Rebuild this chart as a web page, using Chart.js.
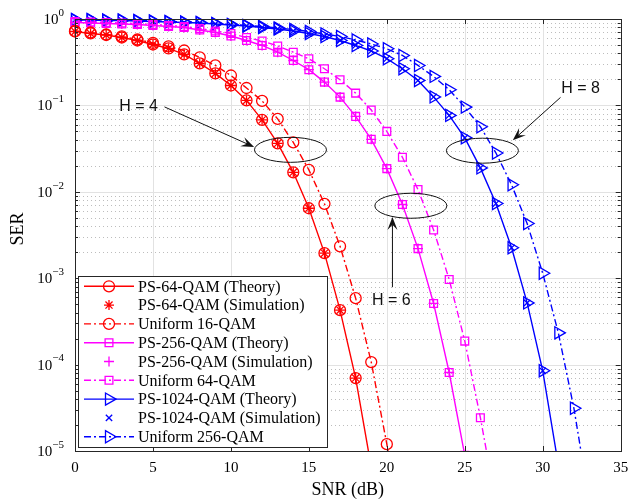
<!DOCTYPE html>
<html>
<head>
<meta charset="utf-8">
<script src="https://cdn.jsdelivr.net/npm/chart.js@4.4.0/dist/chart.umd.min.js"></script>
<style>
  html, body { margin: 0; padding: 0; background: #fff; }
  #wrap { width: 629px; height: 500px; }
</style>
</head>
<body>
<div id="wrap"><canvas id="serChart" width="629" height="500"></canvas></div>
<script>
// SNR grids (dB) for each curve
const snrPs64 = [0,1,2,3,4,5,6,7,8,9,10,11,12,13,14,15,16,17,18,19];
const snrPs64Sim = [0,1,2,3,4,5,6,7,8,9,10,11,12,13,14,15,16,17,18];
const snrUni16 = [0,1,2,3,4,5,6,7,8,9,10,11,12,13,14,15,16,17,18,19,20,21];
const snrPs256 = [0,1,2,3,4,5,6,7,8,9,10,11,12,13,14,15,16,17,18,19,20,21,22,23,24,25];
const snrPs256Sim = [0,1,2,3,4,5,6,7,8,9,10,11,12,13,14,15,16,17,18,19,20,21,22,23,24];
const snrUni64 = [0,1,2,3,4,5,6,7,8,9,10,11,12,13,14,15,16,17,18,19,20,21,22,23,24,25,26,27];
const snrPs1024 = [0,1,2,3,4,5,6,7,8,9,10,11,12,13,14,15,16,17,18,19,20,21,22,23,24,25,26,27,28,29,30,31];
const snrPs1024Sim = [0,1,2,3,4,5,6,7,8,9,10,11,12,13,14,15,16,17,18,19,20,21,22,23,24,25,26,27,28,29,30];
const snrUni256 = [0,1,2,3,4,5,6,7,8,9,10,11,12,13,14,15,16,17,18,19,20,21,22,23,24,25,26,27,28,29,30,31,32,33];

// SER values
const serPs64 = [0.717,0.680,0.653,0.611,0.564,0.507,0.456,0.389,0.306,0.2344,0.170,0.1142,0.0680,0.0364,0.0168,0.00645,0.00195,4.27e-4,6.98e-5,6.5e-6];
const serPs64Sim = [0.717,0.680,0.653,0.611,0.564,0.507,0.456,0.389,0.306,0.2344,0.170,0.1142,0.0680,0.0364,0.0168,0.00645,0.00195,4.27e-4,6.98e-5];
const serUni16 = [0.727,0.698,0.662,0.628,0.579,0.528,0.481,0.432,0.359,0.290,0.222,0.159,0.1127,0.0698,0.0373,0.01795,0.00726,0.00234,5.87e-4,1.07e-4,1.2e-5,1.1e-6];
const serPs256 = [0.911,0.899,0.887,0.875,0.864,0.841,0.819,0.797,0.746,0.698,0.636,0.564,0.494,0.413,0.331,0.259,0.186,0.1247,0.0746,0.0405,0.01855,0.00713,0.0022,5.1e-4,8.1e-5,8.9e-6];
const serPs256Sim = [0.911,0.899,0.887,0.875,0.864,0.841,0.819,0.797,0.746,0.698,0.636,0.564,0.494,0.413,0.331,0.259,0.186,0.1247,0.0746,0.0405,0.01855,0.00713,0.0022,5.1e-4,8.1e-5];
const serUni64 = [0.936,0.923,0.911,0.899,0.887,0.864,0.841,0.819,0.777,0.727,0.680,0.611,0.557,0.488,0.413,0.347,0.2656,0.198,0.1387,0.0883,0.0500,0.0251,0.0106,0.00362,9.66e-4,1.87e-4,2.43e-5,2.5e-6];
const serPs1024 = [0.974,0.974,0.961,0.961,0.948,0.936,0.923,0.911,0.899,0.875,0.852,0.830,0.797,0.766,0.727,0.680,0.628,0.564,0.494,0.4266,0.347,0.2656,0.1945,0.1254,0.0766,0.0421,0.0189,0.00731,0.00225,5.18e-4,8.48e-5,6.9e-6];
const serPs1024Sim = [0.974,0.974,0.961,0.961,0.948,0.936,0.923,0.911,0.899,0.875,0.852,0.830,0.797,0.766,0.727,0.680,0.628,0.564,0.494,0.4266,0.347,0.2656,0.1945,0.1254,0.0766,0.0421,0.0189,0.00731,0.00225,5.18e-4,8.48e-5];
const serUni256 = [0.987,0.987,0.974,0.974,0.961,0.948,0.936,0.923,0.911,0.887,0.864,0.841,0.819,0.787,0.756,0.717,0.671,0.628,0.572,0.514,0.452,0.3785,0.290,0.2165,0.152,0.0956,0.0567,0.0281,0.01205,0.00429,0.00114,2.33e-4,3.12e-5,2.5e-6];

const xTickStep = 5;
const yDecades = [-5, -4, -3, -2, -1, 0];

// annotation groups: label, label position, arrow start/end, ellipse centre (data coords)
const annotations = [
    { text: 'H = 4', at: [4.08, 0.0973], from: [5.74, 0.0961], to: [11.49, 0.033], ring: [13.82, 0.0306] },
    { text: 'H = 6', at: [20.29, 5.57e-4], from: [20.36, 7.87e-4], to: [20.36, 0.00512], ring: [21.54, 0.00689] },
    { text: 'H = 8', at: [32.42, 0.157], from: [31.14, 0.1237], to: [28.08, 0.0394], ring: [26.13, 0.0299] }
];

const RED = '#ff0000', MAG = '#ff00ff', BLUE = '#0000ff';
const DASHDOT = [7, 3, 2, 3];
const SERIF = '"Liberation Serif", "Times New Roman", serif';
const SANS = '"Liberation Sans", Arial, sans-serif';

function points(snr, ser) {
    return snr.map((s, i) => ({ x: s, y: ser[i] }));
}

function series(label, snr, ser, color, marker) {
    return {
        label: label,
        data: points(snr, ser),
        borderColor: color,
        backgroundColor: color,
        borderWidth: 1.4,
        borderDash: marker.dash || [],
        showLine: marker.line !== false,
        pointStyle: marker.style,
        pointRadius: marker.radius,
        pointRotation: marker.rotation || 0,
        pointBorderColor: color,
        pointBackgroundColor: 'rgba(0,0,0,0)',
        pointBorderWidth: 1.3,
        tension: 0,
        clip: { left: 10, top: 10, right: 0, bottom: 0 }
    };
}

const datasets = [
    series('PS-64-QAM (Theory)', snrPs64, serPs64, RED, { style: 'circle', radius: 5.5 }),
    series('PS-64-QAM (Simulation)', snrPs64Sim, serPs64Sim, RED, { style: 'star', radius: 5, line: false }),
    series('Uniform 16-QAM', snrUni16, serUni16, RED, { style: 'circle', radius: 5.5, dash: DASHDOT }),
    series('PS-256-QAM (Theory)', snrPs256, serPs256, MAG, { style: 'rect', radius: 5.5 }),
    series('PS-256-QAM (Simulation)', snrPs256Sim, serPs256Sim, MAG, { style: 'cross', radius: 5, line: false }),
    series('Uniform 64-QAM', snrUni64, serUni64, MAG, { style: 'rect', radius: 5.5, dash: DASHDOT }),
    series('PS-1024-QAM (Theory)', snrPs1024, serPs1024, BLUE, { style: 'triangle', radius: 7, rotation: 90 }),
    series('PS-1024-QAM (Simulation)', snrPs1024Sim, serPs1024Sim, BLUE, { style: 'crossRot', radius: 4.5, line: false }),
    series('Uniform 256-QAM', snrUni256, serUni256, BLUE, { style: 'triangle', radius: 7, rotation: 90, dash: DASHDOT })
];

function marker(ctx, ds, x, y) {
    ctx.save();
    ctx.setLineDash([]);
    ctx.strokeStyle = ds.pointBorderColor;
    ctx.fillStyle = 'rgba(0,0,0,0)';
    ctx.lineWidth = ds.pointBorderWidth;
    Chart.helpers.drawPoint(ctx, {
        pointStyle: ds.pointStyle,
        radius: ds.pointRadius,
        rotation: ds.pointRotation,
        borderWidth: ds.pointBorderWidth
    }, x, y);
    ctx.restore();
}

function arrow(ctx, x0, y0, x1, y1) {
    const len = Math.hypot(x1 - x0, y1 - y0);
    const ux = (x1 - x0) / len, uy = (y1 - y0) / len;
    const nx = -uy, ny = ux;
    const L = 13, W = 10;
    ctx.beginPath();
    ctx.moveTo(x0, y0);
    ctx.lineTo(x1 - ux * L * 0.6, y1 - uy * L * 0.6);
    ctx.stroke();
    ctx.beginPath();
    ctx.moveTo(x1, y1);
    ctx.lineTo(x1 - ux * L + nx * W / 2, y1 - uy * L + ny * W / 2);
    ctx.lineTo(x1 - ux * L * 0.6, y1 - uy * L * 0.6);
    ctx.lineTo(x1 - ux * L - nx * W / 2, y1 - uy * L - ny * W / 2);
    ctx.closePath();
    ctx.fill();
}

const matlabFrame = {
    id: 'matlabFrame',
    beforeDatasetsDraw(chart) {
        const { ctx, chartArea: a, scales: { x, y } } = chart;
        ctx.save();
        ctx.lineWidth = 1;
        // minor log grid (dotted)
        ctx.strokeStyle = '#bdbdbd';
        ctx.setLineDash([1, 3]);
        yDecades.slice(0, -1).forEach(k => {
            for (let m = 2; m <= 9; m++) {
                const py = Math.round(y.getPixelForValue(m * Math.pow(10, k))) + 0.5;
                ctx.beginPath(); ctx.moveTo(a.left, py); ctx.lineTo(a.right, py); ctx.stroke();
            }
        });
        // major grid
        ctx.setLineDash([]);
        ctx.strokeStyle = '#e2e2e2';
        x.ticks.forEach(t => {
            const px = Math.round(x.getPixelForValue(t.value)) + 0.5;
            ctx.beginPath(); ctx.moveTo(px, a.top); ctx.lineTo(px, a.bottom); ctx.stroke();
        });
        yDecades.forEach(k => {
            const py = Math.round(y.getPixelForValue(Math.pow(10, k))) + 0.5;
            ctx.beginPath(); ctx.moveTo(a.left, py); ctx.lineTo(a.right, py); ctx.stroke();
        });
        ctx.restore();
    },
    afterDatasetsDraw(chart) {
        const { ctx, chartArea: a, scales: { x, y } } = chart;
        ctx.save();
        // axes box and inward ticks
        ctx.strokeStyle = '#262626';
        ctx.lineWidth = 1;
        ctx.strokeRect(Math.round(a.left) + 0.5, Math.round(a.top) + 0.5,
            Math.round(a.right - a.left), Math.round(a.bottom - a.top));
        ctx.beginPath();
        x.ticks.forEach(t => {
            const px = Math.round(x.getPixelForValue(t.value)) + 0.5;
            ctx.moveTo(px, a.bottom); ctx.lineTo(px, a.bottom - 5);
            ctx.moveTo(px, a.top); ctx.lineTo(px, a.top + 5);
        });
        yDecades.forEach((k, i) => {
            const py = Math.round(y.getPixelForValue(Math.pow(10, k))) + 0.5;
            ctx.moveTo(a.left, py); ctx.lineTo(a.left + 5, py);
            ctx.moveTo(a.right, py); ctx.lineTo(a.right - 5, py);
            if (i < yDecades.length - 1) {
                for (let m = 2; m <= 9; m++) {
                    const pm = Math.round(y.getPixelForValue(m * Math.pow(10, k))) + 0.5;
                    ctx.moveTo(a.left, pm); ctx.lineTo(a.left + 3, pm);
                    ctx.moveTo(a.right, pm); ctx.lineTo(a.right - 3, pm);
                }
            }
        });
        ctx.stroke();

        // tick labels
        ctx.fillStyle = '#000';
        ctx.font = '15px ' + SERIF;
        ctx.textAlign = 'center';
        ctx.textBaseline = 'middle';
        x.ticks.forEach(t => {
            ctx.fillText(String(t.value), x.getPixelForValue(t.value), a.bottom + 17);
        });
        yDecades.forEach(k => {
            const py = y.getPixelForValue(Math.pow(10, k));
            const exp = k === 0 ? '0' : '\u2212' + Math.abs(k);
            ctx.font = '11px ' + SERIF;
            const ew = ctx.measureText(exp).width;
            ctx.textAlign = 'left';
            ctx.fillText(exp, a.left - 11 - ew, py - 6);
            ctx.font = '15px ' + SERIF;
            ctx.textAlign = 'right';
            ctx.fillText('10', a.left - 11 - ew, py + 1);
        });

        // axis titles
        ctx.font = '18px ' + SERIF;
        ctx.textAlign = 'center';
        ctx.fillText('SNR (dB)', (a.left + a.right) / 2, a.bottom + 39);
        ctx.save();
        ctx.translate(18, (a.top + a.bottom) / 2 - 6);
        ctx.rotate(-Math.PI / 2);
        ctx.fillText('SER', 0, 0);
        ctx.restore();

        // annotations
        ctx.strokeStyle = '#111';
        ctx.fillStyle = '#111';
        ctx.lineWidth = 1;
        annotations.forEach(an => {
            const ex = x.getPixelForValue(an.ring[0]), ey = y.getPixelForValue(an.ring[1]);
            ctx.beginPath(); ctx.ellipse(ex, ey, 36, 12.5, 0, 0, Math.PI * 2); ctx.stroke();
            arrow(ctx, x.getPixelForValue(an.from[0]), y.getPixelForValue(an.from[1]),
                x.getPixelForValue(an.to[0]), y.getPixelForValue(an.to[1]));
            ctx.font = '16px ' + SANS;
            ctx.textAlign = 'center';
            ctx.textBaseline = 'middle';
            ctx.fillText(an.text, x.getPixelForValue(an.at[0]), y.getPixelForValue(an.at[1]));
        });

        // legend box (lower left, inside axes)
        const bx = a.left + 3, bw = 249, rowH = 18.8;
        const bh = rowH * datasets.length + 2;
        const by = a.bottom - 4 - bh;
        ctx.fillStyle = '#fff';
        ctx.fillRect(bx, by, bw, bh);
        ctx.strokeStyle = '#262626';
        ctx.strokeRect(Math.round(bx) + 0.5, Math.round(by) + 0.5, bw, Math.round(bh));
        datasets.forEach((ds, i) => {
            const ry = by + 10.5 + i * rowH;
            if (ds.showLine) {
                ctx.save();
                ctx.strokeStyle = ds.borderColor;
                ctx.lineWidth = ds.borderWidth;
                ctx.setLineDash(ds.borderDash);
                ctx.beginPath(); ctx.moveTo(bx + 6, ry); ctx.lineTo(bx + 56, ry); ctx.stroke();
                ctx.restore();
            }
            marker(ctx, ds, bx + 31, ry);
            ctx.fillStyle = '#000';
            ctx.font = '16px ' + SERIF;
            ctx.textAlign = 'left';
            ctx.textBaseline = 'middle';
            ctx.fillText(ds.label, bx + 60, ry + 1);
        });
        ctx.restore();
    }
};

new Chart(document.getElementById('serChart'), {
    type: 'line',
    data: { datasets: datasets },
    options: {
        responsive: false,
        animation: false,
        devicePixelRatio: 1,
        layout: { padding: { top: 19, right: 6, left: 0, bottom: 0 } },
        plugins: { legend: { display: false }, tooltip: { enabled: false } },
        scales: {
            x: {
                type: 'linear', min: 0, max: 35,
                ticks: { stepSize: xTickStep, display: false },
                grid: { display: false }, border: { display: false },
                afterFit(s) { s.height = 49; }
            },
            y: {
                type: 'logarithmic', min: 1e-5, max: 1,
                ticks: { display: false },
                grid: { display: false }, border: { display: false },
                afterFit(s) { s.width = 75; }
            }
        }
    },
    plugins: [matlabFrame]
});
</script>
</body>
</html>
